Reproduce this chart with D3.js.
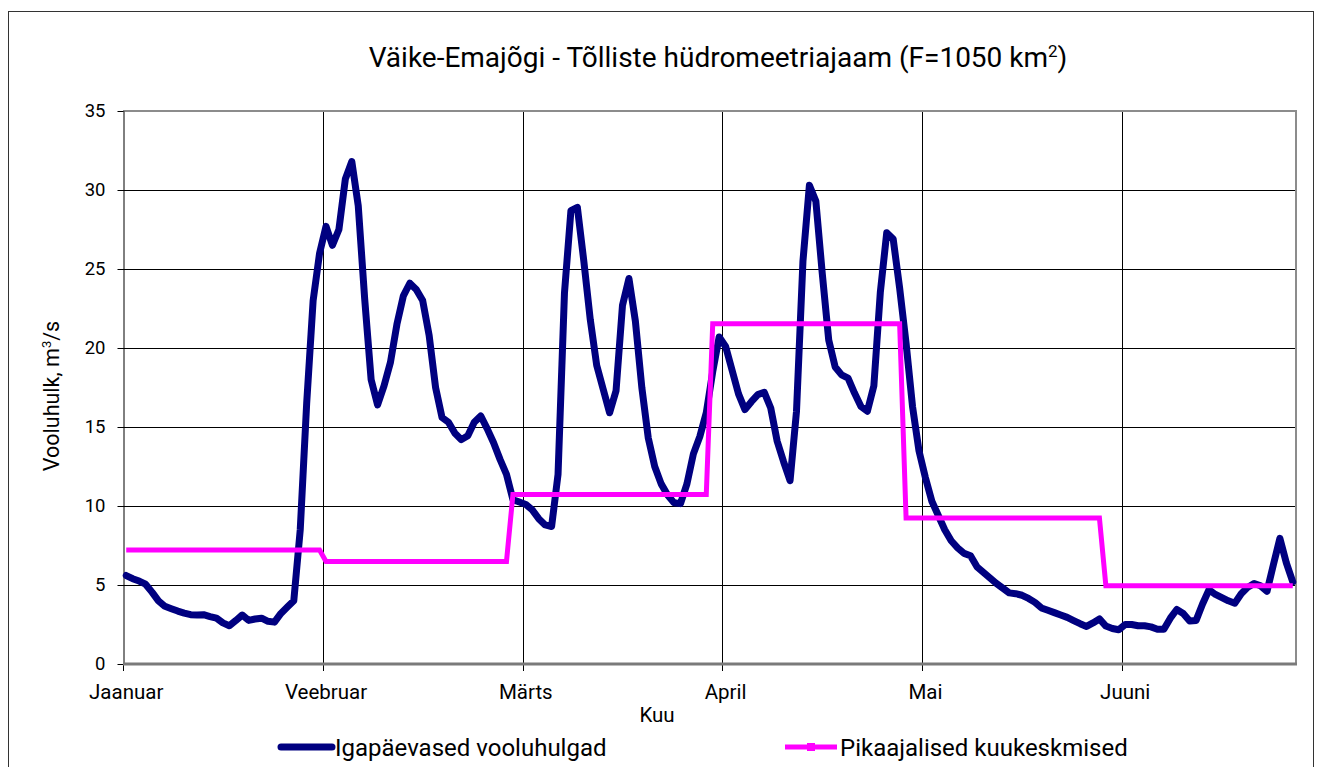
<!DOCTYPE html>
<html>
<head>
<meta charset="utf-8">
<script src="https://cdn.jsdelivr.net/npm/d3@7"></script>
<style>
  body { margin: 0; background: #fff; }
  text { font-family: Roboto, "Noto Sans", sans-serif; fill: #000; }
</style>
</head>
<body>
<script>
// kuud ja nende pikkused (liigaasta)
const months = ["Jaanuar", "Veebruar", "Märts", "April", "Mai", "Juuni"];
const monthDays = [31, 29, 31, 30, 31, 30];
// pikaajalised kuukeskmised, m3/s
const monthMeans = [7.22, 6.49, 10.72, 21.54, 9.24, 4.96];
// igapäevased vooluhulgad, m3/s (1. jaanuar ... 30. juuni)
const dailyFlow = [
  5.6, 5.4, 5.25, 5.05, 4.55, 4.0, 3.65, 3.5, 3.35, 3.22,
  3.12, 3.1, 3.12, 3.0, 2.9, 2.6, 2.42, 2.75, 3.1, 2.76,
  2.85, 2.9, 2.7, 2.65, 3.2, 3.6, 4.0, 8.5, 16.5, 23.0,
  26.0, 27.7, 26.5, 27.5, 30.7, 31.8, 29.0, 23.1, 18.0, 16.4,
  17.6, 19.1, 21.5, 23.3, 24.1, 23.7, 23.0, 20.8, 17.5, 15.6,
  15.3, 14.6, 14.2, 14.45, 15.3, 15.7, 14.9, 14.0, 12.95, 12.0,
  10.4, 10.25, 10.1, 9.75, 9.2, 8.8, 8.7, 12.0, 23.5, 28.7,
  28.9, 25.5, 21.8, 18.9, 17.4, 15.9, 17.3, 22.7, 24.4, 21.7,
  17.5, 14.3, 12.5, 11.4, 10.7, 10.2, 10.15, 11.4, 13.3, 14.4,
  15.9, 18.5, 20.7, 20.1, 18.6, 17.1, 16.1, 16.6, 17.05, 17.2,
  16.2, 14.1, 12.8, 11.6, 16.0, 25.5, 30.3, 29.3, 24.7, 20.5,
  18.8, 18.3, 18.1, 17.15, 16.3, 16.0, 17.6, 23.5, 27.3, 26.9,
  23.8, 20.3, 16.3, 13.5, 11.8, 10.3, 9.4, 8.5, 7.8, 7.35,
  7.0, 6.85, 6.15, 5.8, 5.45, 5.1, 4.8, 4.5, 4.45, 4.35,
  4.15, 3.9, 3.55, 3.4, 3.25, 3.1, 2.95, 2.75, 2.55, 2.38,
  2.6, 2.85, 2.4, 2.25, 2.17, 2.5, 2.5, 2.42, 2.42, 2.35,
  2.2, 2.2, 2.9, 3.45, 3.2, 2.72, 2.76, 3.8, 4.7, 4.4,
  4.2, 4.0, 3.85, 4.45, 4.85, 5.1, 4.95, 4.6, 6.3, 7.95,
  6.4, 5.2
];
const yTicks = [0, 5, 10, 15, 20, 25, 30, 35];
const monthTickDays = [0, 31, 62, 93, 124, 155];

const W = 1325, H = 767;
const plot = { left: 123, right: 1296, top: 111, bottom: 664 };
const totalDays = d3.sum(monthDays);

// kuukeskmised päevade kaupa
const meanDaily = [];
monthMeans.forEach((m, k) => {
  for (let j = 0; j < monthDays[k]; j++) meanDaily.push(m);
});

const svg = d3.select("body").append("svg")
    .attr("width", W)
    .attr("height", H);

// välimine raam
svg.append("rect")
    .attr("x", 8.5).attr("y", 11.5)
    .attr("width", 1305).attr("height", 770)
    .attr("fill", "none")
    .attr("stroke", "#333")
    .attr("stroke-width", 1);

const x = d3.scaleLinear()
    .domain([0, totalDays])
    .range([plot.left, plot.right]);

const y = d3.scaleLinear()
    .domain([0, 35])
    .range([plot.bottom, plot.top]);

// horisontaalsed abijooned
svg.append("g")
  .selectAll("line")
  .data(yTicks.filter(t => t > 0 && t < 35))
  .join("line")
    .attr("x1", plot.left).attr("x2", plot.right)
    .attr("y1", d => Math.round(y(d)) + 0.5)
    .attr("y2", d => Math.round(y(d)) + 0.5)
    .attr("stroke", "#000")
    .attr("stroke-width", 1);

// vertikaalsed abijooned
svg.append("g")
  .selectAll("line")
  .data(monthTickDays.slice(1))
  .join("line")
    .attr("x1", d => Math.round(x(d)) + 0.5)
    .attr("x2", d => Math.round(x(d)) + 0.5)
    .attr("y1", plot.top).attr("y2", plot.bottom + 6)
    .attr("stroke", "#000")
    .attr("stroke-width", 1);

// joonise ala raam (üla- ja parem serv hall)
svg.append("path")
    .attr("d", `M${plot.left},${plot.top} H${plot.right} V${plot.bottom}`)
    .attr("fill", "none")
    .attr("stroke", "#8c8c8c")
    .attr("stroke-width", 2);

// Y telg
const yAxis = svg.append("g")
    .attr("transform", `translate(${plot.left + 0.5},0)`)
    .call(d3.axisLeft(y).tickValues(yTicks).tickSize(6).tickSizeOuter(0).tickPadding(12));
yAxis.select(".domain").attr("stroke", "#000");
yAxis.selectAll(".tick line").attr("stroke", "#000");
yAxis.selectAll(".tick text")
    .attr("font-size", 18.5)
    .attr("font-family", "Roboto")
    .attr("fill", "#000");

// X telg
svg.append("g")
  .selectAll("line")
  .data(monthTickDays)
  .join("line")
    .attr("x1", d => Math.round(x(d)) + 0.5)
    .attr("x2", d => Math.round(x(d)) + 0.5)
    .attr("y1", plot.bottom).attr("y2", plot.bottom + 7)
    .attr("stroke", "#000");

svg.append("line")
    .attr("x1", plot.left).attr("x2", plot.right + 1)
    .attr("y1", plot.bottom).attr("y2", plot.bottom)
    .attr("stroke", "#7a7a7a")
    .attr("stroke-width", 3);

svg.append("g")
  .selectAll("text")
  .data(monthTickDays)
  .join("text")
    .attr("x", (d, i) => x(d + 0.5))
    .attr("y", 699)
    .attr("text-anchor", "middle")
    .attr("font-size", 20.5)
    .text((d, i) => months[i]);

// igapäevased vooluhulgad
const line = d3.line()
    .x((d, i) => x(i + 0.5))
    .y(d => y(d));

svg.append("path")
    .datum(dailyFlow)
    .attr("d", line)
    .attr("fill", "none")
    .attr("stroke", "#000080")
    .attr("stroke-width", 7)
    .attr("stroke-linejoin", "round")
    .attr("stroke-linecap", "round");

// pikaajalised kuukeskmised
svg.append("path")
    .datum(meanDaily)
    .attr("d", line)
    .attr("fill", "none")
    .attr("stroke", "#ff00ff")
    .attr("stroke-width", 5);

// pealkiri
const title = svg.append("text")
    .attr("x", 718)
    .attr("y", 67)
    .attr("text-anchor", "middle")
    .attr("font-size", 28);
title.append("tspan").text("Väike-Emajõgi - Tõlliste hüdromeetriajaam (F=1050 km");
title.append("tspan").attr("font-size", 17).attr("dy", -10).text("2");
title.append("tspan").attr("dy", 10).text(")");

// telgede nimed
svg.append("text")
    .attr("x", 657)
    .attr("y", 722)
    .attr("text-anchor", "middle")
    .attr("font-size", 20.5)
    .text("Kuu");

const yLabel = svg.append("text")
    .attr("transform", "translate(59,396) rotate(-90)")
    .attr("text-anchor", "middle")
    .attr("font-size", 21.5);
yLabel.append("tspan").text("Vooluhulk, m");
yLabel.append("tspan").attr("font-size", 13).attr("dy", -8).text("3");
yLabel.append("tspan").attr("dy", 8).text("/s");

// legend
const legend = [
  { label: "Igapäevased vooluhulgad", color: "#000080", width: 7, x0: 281, x1: 332, tx: 335, marker: false },
  { label: "Pikaajalised kuukeskmised", color: "#ff00ff", width: 5, x0: 785, x1: 837, tx: 840, marker: true }
];
const lg = svg.append("g").selectAll("g").data(legend).join("g");
lg.append("line")
    .attr("x1", d => d.x0).attr("x2", d => d.x1)
    .attr("y1", 747).attr("y2", 747)
    .attr("stroke", d => d.color)
    .attr("stroke-width", d => d.width)
    .attr("stroke-linecap", d => d.marker ? "butt" : "round");
lg.filter(d => d.marker).append("rect")
    .attr("x", d => (d.x0 + d.x1) / 2 - 4)
    .attr("y", 743)
    .attr("width", 8).attr("height", 8)
    .attr("fill", d => d.color);
lg.append("text")
    .attr("x", d => d.tx)
    .attr("y", 756)
    .attr("font-size", 24)
    .text(d => d.label);
</script>
</body>
</html>
